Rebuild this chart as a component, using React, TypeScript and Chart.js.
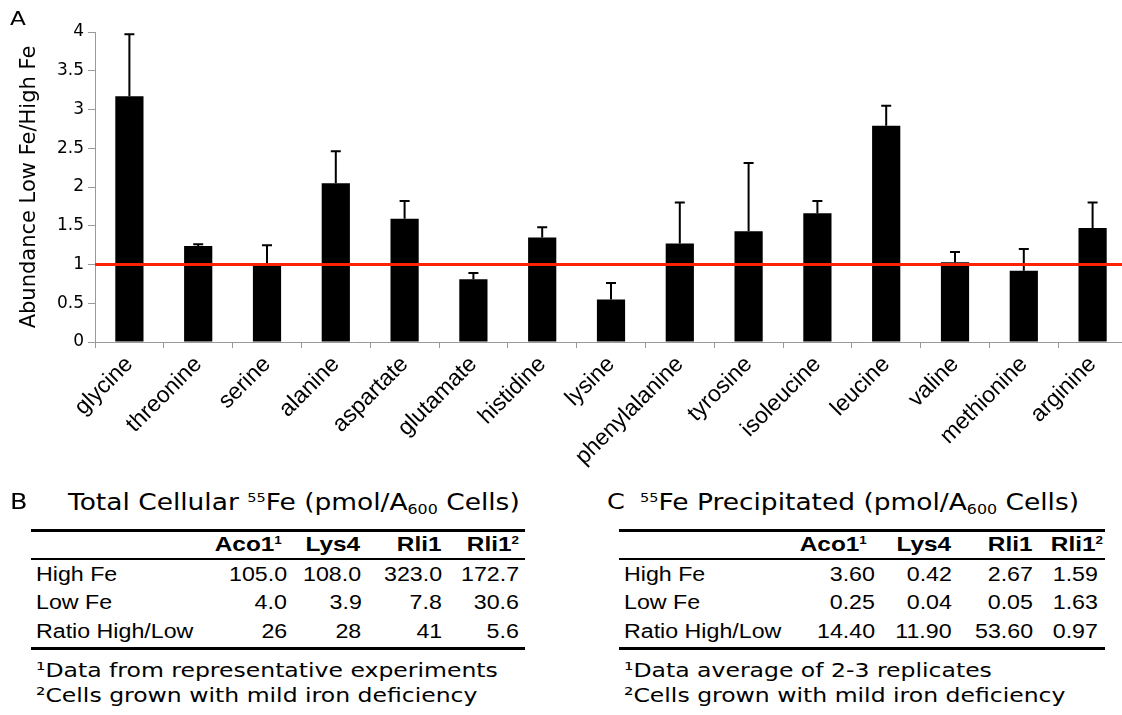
import React, { useEffect, useRef } from "react";
import { Chart, registerables } from "chart.js";

Chart.register(...registerables);

// ---------- Panel A data ----------
const categories = [
  "glycine", "threonine", "serine", "alanine", "aspartate", "glutamate", "histidine",
  "lysine", "phenylalanine", "tyrosine", "isoleucine", "leucine", "valine", "methionine", "arginine",
];
const abundance = [3.17, 1.24, 1.02, 2.05, 1.59, 0.81, 1.35, 0.55, 1.27, 1.43, 1.66, 2.79, 1.03, 0.92, 1.47];
const abundanceError = [0.8, 0.02, 0.23, 0.41, 0.23, 0.08, 0.13, 0.21, 0.53, 0.88, 0.16, 0.26, 0.13, 0.28, 0.33];
const referenceLevel = 1;
const yTickValues = [0, 0.5, 1, 1.5, 2, 2.5, 3, 3.5, 4];

// ---------- Panels B / C data ----------
const tableColumns = ["Aco1", "Lys4", "Rli1", "Rli1"];
const columnNotes = ["1", "", "", "2"];
const rowLabels = ["High Fe", "Low Fe", "Ratio High/Low"];
const totalHighFe = ["105.0", "108.0", "323.0", "172.7"];
const totalLowFe = ["4.0", "3.9", "7.8", "30.6"];
const totalRatio = ["26", "28", "41", "5.6"];
const precipHighFe = ["3.60", "0.42", "2.67", "1.59"];
const precipLowFe = ["0.25", "0.04", "0.05", "1.63"];
const precipRatio = ["14.40", "11.90", "53.60", "0.97"];
const notesB = ["\u00B9Data from representative experiments", "\u00B2Cells grown with mild iron deficiency"];
const notesC = ["\u00B9Data average of 2-3 replicates", "\u00B2Cells grown with mild iron deficiency"];

const W = 1122;
const H = 715;
const SX = 1.16;
const VERDANA = "'DejaVu Sans', Verdana, sans-serif";
const ARIAL = "'Liberation Sans', Arial, sans-serif";

const overlayPlugin = {
  id: "errorBarsAndReference",
  afterDatasetsDraw(chart: any) {
    const { ctx, chartArea } = chart;
    const y = chart.scales.y;
    const meta = chart.getDatasetMeta(0);
    ctx.save();
    ctx.strokeStyle = "#000";
    ctx.lineWidth = 2;
    meta.data.forEach((bar: any, i: number) => {
      const x = bar.x;
      const yv = y.getPixelForValue(abundance[i]);
      const yt = y.getPixelForValue(abundance[i] + abundanceError[i]);
      ctx.beginPath();
      ctx.moveTo(x, yv);
      ctx.lineTo(x, yt);
      ctx.moveTo(x - 5, yt);
      ctx.lineTo(x + 5, yt);
      ctx.stroke();
    });
    const yr = y.getPixelForValue(referenceLevel);
    ctx.strokeStyle = "#ff2200";
    ctx.lineWidth = 3;
    ctx.beginPath();
    ctx.moveTo(chartArea.left, yr);
    ctx.lineTo(chartArea.right, yr);
    ctx.stroke();
    ctx.restore();
  },
};

function Sup({ children, bold }: any) {
  return (
    <span style={{ fontSize: "0.55em", position: "relative", top: "-0.65em", lineHeight: 0, fontWeight: bold ? 700 : undefined }}>
      {children}
    </span>
  );
}
function Sub({ children }: any) {
  return <span style={{ fontSize: "0.6em", position: "relative", top: "0.3em", lineHeight: 0 }}>{children}</span>;
}

function Txt({ x, y, size, family, weight, align = "left", children }: any) {
  const style: any = {
    position: "absolute",
    top: y - 0.846 * size,
    fontSize: size,
    lineHeight: `${size}px`,
    fontFamily: family,
    fontWeight: weight || 400,
    whiteSpace: "nowrap",
    color: "#000",
    transform: `scaleX(${SX})`,
    transformOrigin: align === "left" ? "left center" : "right center",
  };
  if (align === "left") style.left = x;
  else style.right = W - x;
  return <div style={style}>{children}</div>;
}

function Rule({ x1, x2, y, h }: any) {
  return <div style={{ position: "absolute", left: x1, top: y, width: x2 - x1, height: h, background: "#000" }} />;
}

function DataTable({ letter, letterX, titleX, title, ruleX1, ruleX2, labelX, headerRights, valueRights, rows, notes }: any) {
  const rowBaselines = [580.7, 609.3, 638.3];
  return (
    <>
      <Txt x={letterX} y={510} size={22} family={VERDANA}>{letter}</Txt>
      <Txt x={titleX} y={510} size={22.8} family={VERDANA}>{title}</Txt>
      <Rule x1={ruleX1} x2={ruleX2} y={528.5} h={3} />
      {tableColumns.map((c, i) => (
        <Txt key={"h" + i} x={headerRights[i]} y={551} size={21} family={ARIAL} weight={700} align="right">
          {c}
          {columnNotes[i] ? <Sup bold>{columnNotes[i]}</Sup> : null}
        </Txt>
      ))}
      <Rule x1={ruleX1} x2={ruleX2} y={558} h={2} />
      {rowLabels.map((r, ri) => (
        <React.Fragment key={"r" + ri}>
          <Txt x={labelX} y={rowBaselines[ri]} size={20} family={ARIAL}>{r}</Txt>
          {rows[ri].map((v: string, ci: number) => (
            <Txt key={ci} x={valueRights[ci]} y={rowBaselines[ri]} size={20} family={ARIAL} align="right">{v}</Txt>
          ))}
        </React.Fragment>
      ))}
      <Rule x1={ruleX1} x2={ruleX2} y={647} h={3} />
      <Txt x={labelX} y={676.7} size={20.3} family={VERDANA}>{notes[0]}</Txt>
      <Txt x={labelX} y={701.7} size={20.3} family={VERDANA}>{notes[1]}</Txt>
    </>
  );
}

export default function App() {
  const canvasRef = useRef<HTMLCanvasElement | null>(null);

  useEffect(() => {
    const canvas = canvasRef.current;
    if (!canvas) return;
    const chart = new Chart(canvas, {
      type: "bar",
      data: {
        labels: categories,
        datasets: [
          {
            data: abundance,
            backgroundColor: "#000",
            borderWidth: 0,
            categoryPercentage: 1,
            barPercentage: 0.41,
          },
        ],
      },
      options: {
        animation: false,
        responsive: false,
        maintainAspectRatio: false,
        layout: { padding: { top: 32, left: 0, right: 0, bottom: 0 } },
        plugins: { legend: { display: false }, tooltip: { enabled: false }, title: { display: false } },
        scales: {
          x: {
            grid: { display: true, drawOnChartArea: false, tickLength: 6, color: "#999", offset: true },
            border: { color: "#999", width: 1 },
            ticks: {
              minRotation: 45,
              maxRotation: 45,
              autoSkip: false,
              color: "#000",
              padding: 3,
              font: { family: ARIAL, size: 23 },
            },
            afterFit: (s: any) => {
              s.height = 128;
            },
          },
          y: {
            min: 0,
            max: 4,
            afterBuildTicks: (s: any) => {
              s.ticks = yTickValues.map((v) => ({ value: v }));
            },
            ticks: {
              color: "#000",
              padding: 4,
              font: { family: VERDANA, size: 17 },
              callback: (v: any) => String(v),
            },
            grid: { drawOnChartArea: false, tickLength: 7, color: "#999" },
            border: { color: "#999", width: 1 },
            title: {
              display: true,
              text: "Abundance Low Fe/High Fe",
              color: "#000",
              font: { family: VERDANA, size: 21 },
              padding: { top: 17, bottom: 0 },
            },
            afterFit: (s: any) => {
              s.width = 95;
            },
          },
        },
      },
      plugins: [overlayPlugin],
    } as any);
    return () => chart.destroy();
  }, []);

  return (
    <div style={{ position: "fixed", left: 0, top: 0, width: W, height: H, overflow: "hidden", background: "#fff" }}>
      <canvas ref={canvasRef} width={1127} height={470} style={{ position: "absolute", left: 0, top: 0, display: "block" }} />
      <Txt x={10} y={25} size={20} family={VERDANA}>A</Txt>
      <DataTable
        letter="B"
        letterX={10}
        titleX={68}
        title={<>Total Cellular <Sup>55</Sup>Fe (pmol/A<Sub>600</Sub> Cells)</>}
        ruleX1={31}
        ruleX2={525}
        labelX={36}
        headerRights={[282, 360, 442, 519]}
        valueRights={[287, 361.5, 442, 519]}
        rows={[totalHighFe, totalLowFe, totalRatio]}
        notes={notesB}
      />
      <DataTable
        letter="C"
        letterX={606.7}
        titleX={640}
        title={<><Sup>55</Sup>Fe Precipitated (pmol/A<Sub>600</Sub> Cells)</>}
        ruleX1={619}
        ruleX2={1105}
        labelX={624}
        headerRights={[867, 951, 1033, 1103]}
        valueRights={[875, 952, 1033, 1098]}
        rows={[precipHighFe, precipLowFe, precipRatio]}
        notes={notesC}
      />
    </div>
  );
}
